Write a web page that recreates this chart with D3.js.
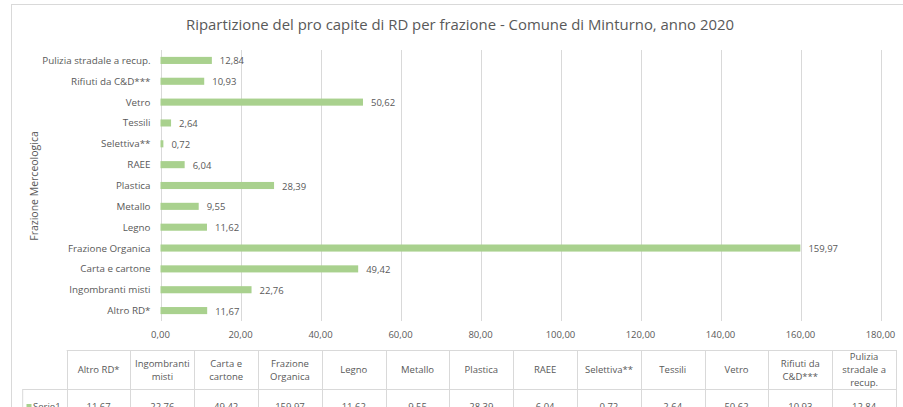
<!DOCTYPE html>
<html>
<head>
<meta charset="utf-8">
<script src="https://cdn.jsdelivr.net/npm/d3@7"></script>
<style>
  body { margin: 0; background: #fff; }
  svg { display: block; font-family: "Open Sans", "Liberation Sans", sans-serif; }
</style>
</head>
<body>
<svg id="chart" width="903" height="407"></svg>
<script>
// categories from bottom to top, as in the chart
const categories = ["Altro RD*", "Ingombranti misti", "Carta e cartone", "Frazione Organica", "Legno", "Metallo",
  "Plastica", "RAEE", "Selettiva**", "Tessili", "Vetro", "Rifiuti da C&D***", "Pulizia stradale a recup."]
const values = [11.67, 22.76, 49.42, 159.97, 11.62, 9.55, 28.39, 6.04, 0.72, 2.64, 50.62, 10.93, 12.84]
const xTicks = [0, 20, 40, 60, 80, 100, 120, 140, 160, 180]
const seriesName = "Serie1"
const title = "Ripartizione del pro capite di RD per frazione - Comune di Minturno, anno 2020"
const yTitle = "Frazione Merceologica"

const it = d3.formatLocale({decimal: ",", thousands: ".", grouping: [3], currency: ["", " €"]})
const fmt = it.format(".2f")

const svg = d3.select("#chart")
const textColor = "#595959"
const gridColor = "#d9d9d9"
const barColor = "#a9d18e"

// chart border
svg.append("rect")
  .attr("x", 11.5).attr("y", 4.5)
  .attr("width", 900).attr("height", 420)
  .attr("fill", "none").attr("stroke", "#d9d9d9")

svg.append("text")
  .attr("x", 460).attr("y", 30)
  .attr("text-anchor", "middle")
  .attr("fill", textColor)
  .style("font-size", "14.9px")
  .text(title)

const plot = {left: 160.5, right: 880.5, top: 50, bottom: 321}

const x = d3.scaleLinear().domain([0, 180]).range([plot.left, plot.right])
const y = d3.scaleBand().domain(categories).range([plot.bottom, plot.top])
  .paddingInner(0.66).paddingOuter(0.33)

// gridlines
svg.append("g")
  .selectAll("line")
  .data(xTicks)
  .join("line")
  .attr("x1", d => Math.round(x(d)) + 0.5).attr("x2", d => Math.round(x(d)) + 0.5)
  .attr("y1", plot.top).attr("y2", plot.bottom)
  .attr("stroke", gridColor)

// x tick labels
svg.append("g")
  .selectAll("text")
  .data(xTicks)
  .join("text")
  .attr("x", d => x(d)).attr("y", 338)
  .attr("text-anchor", "middle")
  .attr("fill", textColor)
  .style("font-size", "9.5px")
  .text(d => fmt(d))

// bars
svg.append("g")
  .selectAll("rect")
  .data(categories)
  .join("rect")
  .attr("x", x(0))
  .attr("y", d => y(d))
  .attr("width", (d, i) => x(values[i]) - x(0))
  .attr("height", y.bandwidth())
  .attr("fill", barColor)

// value labels
svg.append("g")
  .selectAll("text")
  .data(categories)
  .join("text")
  .attr("x", (d, i) => x(values[i]) + 8)
  .attr("y", d => y(d) + y.bandwidth() / 2 + 4)
  .attr("fill", textColor)
  .style("font-size", "9.5px")
  .text((d, i) => fmt(values[i]))

// category labels
svg.append("g")
  .selectAll("text")
  .data(categories)
  .join("text")
  .attr("x", plot.left - 10)
  .attr("y", d => y(d) + y.bandwidth() / 2 + 3.5)
  .attr("text-anchor", "end")
  .attr("fill", textColor)
  .style("font-size", "9.8px")
  .text(d => d)

// y axis title
svg.append("text")
  .attr("transform", "translate(38,186) rotate(-90)")
  .attr("text-anchor", "middle")
  .attr("fill", textColor)
  .style("font-size", "10.5px")
  .text(yTitle)

//---------- DATA TABLE ----------//
const tbl = {left: 66.7, right: 896, top: 350, mid: 389, bottom: 420, keyLeft: 22.7}
const colW = (tbl.right - tbl.left) / categories.length
const table = svg.append("g")

table.append("line")
  .attr("x1", tbl.left).attr("x2", tbl.right)
  .attr("y1", tbl.top + 0.5).attr("y2", tbl.top + 0.5)
  .attr("stroke", gridColor)
table.append("line")
  .attr("x1", tbl.keyLeft).attr("x2", tbl.right)
  .attr("y1", tbl.mid + 0.5).attr("y2", tbl.mid + 0.5)
  .attr("stroke", gridColor)
table.append("line")
  .attr("x1", tbl.keyLeft).attr("x2", tbl.keyLeft)
  .attr("y1", tbl.mid).attr("y2", tbl.bottom)
  .attr("stroke", gridColor)
table.selectAll("line.col")
  .data(d3.range(categories.length + 1))
  .join("line")
  .attr("class", "col")
  .attr("x1", i => Math.round(tbl.left + i * colW) + 0.5)
  .attr("x2", i => Math.round(tbl.left + i * colW) + 0.5)
  .attr("y1", tbl.top).attr("y2", tbl.bottom)
  .attr("stroke", gridColor)

// header cells, wrapped to column width
const headers = table.selectAll("text.head")
  .data(categories)
  .join("text")
  .attr("class", "head")
  .attr("text-anchor", "middle")
  .attr("fill", textColor)
  .style("font-size", "9.5px")

headers.each(function(d, i) {
  const el = d3.select(this)
  const words = d.split(" ")
  let lines = []
  let line = []
  const probe = el.append("tspan")
  words.forEach(w => {
    const test = line.concat([w]).join(" ")
    probe.text(test)
    if (probe.node().getComputedTextLength() > colW - 8 && line.length) {
      lines.push(line.join(" "))
      line = [w]
    } else {
      line.push(w)
    }
  })
  lines.push(line.join(" "))
  probe.remove()
  const cx = tbl.left + (i + 0.5) * colW
  const lh = 13
  const y0 = (tbl.top + tbl.mid) / 2 - (lines.length - 1) * lh / 2 + 3.5
  lines.forEach((l, k) => {
    el.append("tspan").attr("x", cx).attr("y", y0 + k * lh).text(l)
  })
})

table.selectAll("text.val")
  .data(values)
  .join("text")
  .attr("class", "val")
  .attr("x", (d, i) => tbl.left + (i + 0.5) * colW)
  .attr("y", 410)
  .attr("text-anchor", "middle")
  .attr("fill", textColor)
  .style("font-size", "9.5px")
  .text(d => fmt(d))

// legend key
table.append("rect")
  .attr("x", 26.5).attr("y", 404)
  .attr("width", 5).attr("height", 5)
  .attr("fill", barColor)
table.append("text")
  .attr("x", 33).attr("y", 410)
  .attr("fill", textColor)
  .style("font-size", "9.5px")
  .text(seriesName)
</script>
</body>
</html>
